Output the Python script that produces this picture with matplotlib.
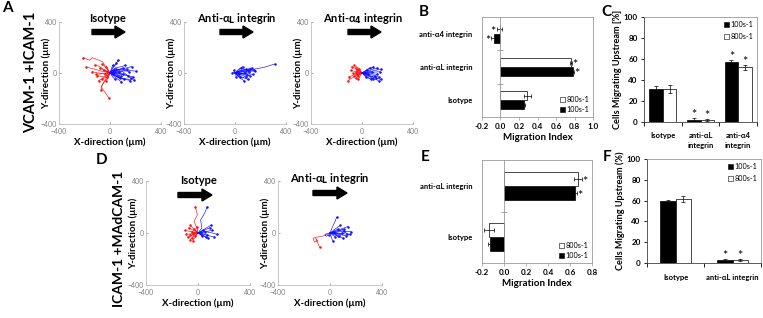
import numpy as np
import matplotlib
matplotlib.use("Agg")
import matplotlib.pyplot as plt
from matplotlib.patches import FancyArrow, Patch
from matplotlib.transforms import IdentityTransform

plt.rcParams['font.family'] = ['Lato', 'DejaVu Sans']

W, H = 763, 318

# ---- trajectories (um), each track starts at the origin ----
A1_red = [
    [(-20, 30), (-60, 90), (-140, 120), (-160, 100), (-210, 120)],
    [(-30, -40), (-70, -110), (-40, -150), (-10, -195)],
    [(-50, 10), (-120, 30), (-185, 45)],
    [(-40, 20), (-90, 55), (-120, 60)],
    [(-30, -10), (-90, 0), (-140, 10)],
    [(-20, -20), (-60, -30), (-100, -20)],
    [(-30, 10), (-80, 40)],
    [(-20, -30), (-60, -45)],
    [(-20, 10), (-50, 20)],
    [(-20, -5), (-40, -10)],
    [(-10, 20), (-30, 50)],
    [(-40, -30), (-90, -60)],
    [(-10, -15), (-20, -30)],
    [(-30, 40), (-60, 70)],
    [(-50, -5), (-110, -10)],
    [(-15, -40), (-30, -60)],
    [(-20, -40), (-60, -90), (-70, -130)],
    [(-10, 5), (-25, 15)],
]
A1_blue = [
    [(60, 10), (140, 20), (200, 15)],
    [(80, -10), (140, -20), (180, -30)],
    [(70, -40), (120, -50), (160, -60)],
    [(60, 30), (110, 20), (150, 10)],
    [(40, 40), (90, 50), (120, 60)],
    [(50, 20), (100, 40)],
    [(40, -20), (80, -40)],
    [(30, 50), (50, 70), (60, 100)],
    [(20, 40), (50, 80)],
    [(70, 0), (140, -20)],
    [(80, 30), (130, 40), (170, 50)],
    [(50, -40), (90, -70)],
    [(20, -30), (40, -50)],
    [(15, 10), (30, 20)],
    [(35, 5), (70, 10)],
    [(60, -30), (110, -50)],
    [(70, 20), (130, 30)],
    [(30, -10), (60, -20)],
    [(10, 30), (20, 60)],
    [(90, -40), (150, -50), (190, -55)],
    [(50, 0), (100, -10)],
    [(20, 20), (45, 35)],
    [(10, -5), (20, -10)],
    [(40, -5), (85, -25)],
    [(100, 10), (165, -40)],
]
A2_red = []
A2_blue = [
    [(60, 10), (150, 30), (230, 45), (310, 70)],
    [(60, 20), (130, 40)],
    [(70, 0), (150, 20)],
    [(60, -10), (120, -20)],
    [(50, -30), (100, -50)],
    [(40, -40), (70, -60)],
    [(40, 20), (90, 30)],
    [(30, 30), (60, 50)],
    [(20, -20), (40, -30)],
    [(10, 5), (20, 10)],
    [(-10, 5), (-20, 0)],
    [(5, -15), (10, -30)],
    [(40, 0), (80, 0)],
    [(60, 10), (110, 10)],
    [(30, 25), (50, 40)],
    [(15, -5), (30, -10)],
    [(-5, 10), (-10, 20)],
    [(70, -5), (140, -10)],
    [(50, -15), (90, -30)],
    [(80, 20), (160, 15)],
    [(30, -10), (60, -5), (100, 20)],
    [(20, 10), (70, 25), (120, 30)],
    [(25, -25), (60, -40), (95, -15)],
]
A3_red = [
    [(-40, -20), (-80, -40), (-110, -60)],
    [(-50, -10), (-100, -30)],
    [(-40, 30), (-80, 50)],
    [(-30, 40), (-60, 60)],
    [(-30, -20), (-50, -40)],
    [(-20, 10), (-40, 20)],
    [(-15, -10), (-30, -20)],
    [(-10, 15), (-20, 30)],
    [(-35, 0), (-70, 0)],
    [(-45, 10), (-90, 20)],
    [(-25, 20), (-50, 40)],
    [(-15, -25), (-30, -50)],
    [(-30, -10), (-60, -20)],
    [(-20, 0), (-40, -5)],
    [(-25, 5), (-45, 10)],
]
A3_blue = [
    [(60, -20), (110, -40), (150, -50)],
    [(60, -30), (130, -60)],
    [(50, -20), (110, -40)],
    [(70, 5), (140, 10)],
    [(60, 20), (120, 40)],
    [(40, 25), (90, 50)],
    [(30, 20), (60, 40)],
    [(50, -10), (100, -20)],
    [(35, -25), (70, -50)],
    [(20, 10), (40, 20)],
    [(15, -15), (30, -30)],
    [(40, 5), (80, 10)],
    [(60, -5), (120, -10)],
    [(25, -5), (50, -10)],
    [(80, 15), (150, 30)],
    [(10, 5), (20, 0)],
    [(45, -40), (90, -45)],
    [(30, 0), (70, -30), (130, -30)],
]
D1_red = [
    [(-10, 40), (-30, 90), (-5, 140), (-20, 200)],
    [(-50, 10), (-100, 20)],
    [(-45, -5), (-90, -10)],
    [(-35, 20), (-70, 40)],
    [(-30, -25), (-60, -50)],
    [(-20, -30), (-40, -60)],
    [(-25, 5), (-50, 10)],
    [(-15, 15), (-30, 30)],
    [(-40, -15), (-80, -30)],
    [(-10, -10), (-20, -20)],
    [(-5, 25), (-10, 50)],
    [(-30, 30), (-60, 60)],
    [(-20, -5), (-45, -35)],
    [(-35, 0), (-65, -15)],
    [(-15, 5), (-35, -5)],
]
D1_blue = [
    [(30, 40), (20, 100), (50, 150), (70, 200)],
    [(60, 10), (110, 0), (145, -10)],
    [(45, 20), (90, 40)],
    [(55, 10), (110, 20)],
    [(30, -15), (60, -30)],
    [(40, -20), (80, -40)],
    [(20, 10), (40, 20)],
    [(15, -10), (30, -20)],
    [(50, 30), (100, 60)],
    [(25, 5), (50, 10)],
    [(60, -15), (120, -30)],
    [(10, 0), (20, -5)],
    [(35, -5), (70, -15)],
]
D2_red = [
    [(-40, -20), (-90, -30), (-130, -40), (-120, -70), (-95, -60), (-110, -40), (-80, -110)],
]
D2_blue = [
    [(20, 50), (40, 90), (50, 120)],
    [(80, 10), (160, 10)],
    [(70, 25), (140, 50)],
    [(60, -10), (120, -20)],
    [(50, -20), (100, -40)],
    [(10, -30), (20, -60)],
    [(40, 30), (80, 60)],
    [(30, 15), (60, 30)],
    [(45, 0), (90, 0)],
    [(15, 5), (30, 10)],
    [(55, 15), (110, 30)],
    [(35, -10), (70, -20)],
    [(75, -5), (150, -10)],
    [(20, -15), (40, -30)],
    [(-20, -5), (-40, -10), (-30, -25), (-10, -15)],
    [(30, 5), (65, -35), (105, 15)],
    [(50, 5), (95, 25), (130, -5)],
]

# ---- bar chart data ----
B_cats = ['Isotype', 'anti-αL integrin', 'anti-α4 integrin']
B_100 = [0.25, 0.78, -0.07]
B_100_err = [0.02, 0.01, 0.03]
B_100_star = [False, True, True]
B_800 = [0.29, 0.76, -0.01]
B_800_err = [0.04, 0.01, 0.03]
B_800_star = [False, True, True]

C_cats = ['Isotype', 'anti-αL\nintegrin', 'anti-α4\nintegrin']
C_100 = [31, 2, 57]
C_100_err = [3, 1.5, 2]
C_100_star = [False, True, True]
C_800 = [31.5, 1.5, 52]
C_800_err = [3.5, 1, 2.5]
C_800_star = [False, True, True]

E_cats = ['Isotype', 'anti-αL integrin']
E_100 = [-0.13, 0.65]
E_100_err = [0.012, 0.01]
E_100_star = [False, True]
E_800 = [-0.14, 0.67]
E_800_err = [0.045, 0.035]
E_800_star = [False, True]

F_cats = ['Isotype', 'anti-αL integrin']
F_100 = [59.5, 3]
F_100_err = [1.5, 1]
F_100_star = [False, True]
F_800 = [61.5, 2.5]
F_800_err = [2.5, 1]
F_800_star = [False, True]

fig = plt.figure(figsize=(W / 100, H / 100), dpi=100)


def px_axes(l, t, r, b):
    return fig.add_axes([l / W, 1 - b / H, (r - l) / W, (b - t) / H])


def ftext(x, y, s, **kw):
    return fig.text(x / W, 1 - y / H, s, **kw)


def arrow(x0, x1, y):
    a = FancyArrow(x0, H - y, x1 - x0 - 10, 0, width=5, head_width=12,
                   head_length=10, length_includes_head=False,
                   color='black', transform=IdentityTransform())
    fig.add_artist(a)


def traj_panel(l, t, size, title, tx, red, blue, arr):
    ax = px_axes(l, t, l + size, t + size)
    for tracks, col in ((red, '#ff1010'), (blue, '#1010ff')):
        for tr in tracks:
            xs = [0] + [p[0] for p in tr]
            ys = [0] + [p[1] for p in tr]
            ax.plot(xs, ys, color=col, lw=0.45)
            ax.plot(xs[-1], ys[-1], 'o', color=col, ms=1.8, mew=0)
    ax.set_xlim(-400, 400)
    ax.set_ylim(-400, 400)
    for s in ['top', 'right']:
        ax.spines[s].set_visible(False)
    for s in ['left', 'bottom']:
        ax.spines[s].set_color('0.75')
        ax.spines[s].set_linewidth(0.6)
    ax.set_xticks([-400, 0, 400])
    ax.set_yticks([-400, 0, 400])
    ax.tick_params(labelsize=5, colors='0.5', length=1.5, width=0.5,
                   direction='in', pad=1.5)
    ax.tick_params(axis='x', pad=3)
    ax.set_xlabel('X-direction (µm)', fontsize=7, fontweight='bold', labelpad=1.5)
    ax.set_ylabel('Y-direction (µm)', fontsize=7, fontweight='bold')
    ax.yaxis.set_label_coords(-8.0 / size, 0.5)
    ftext(tx, arr[2] - 14, title, ha='center', va='center', fontsize=8,
          fontweight='bold')
    arrow(arr[0], arr[1], arr[2])
    return ax


traj_panel(59, 22, 102, 'Isotype', 108, A1_red, A1_blue, (92, 125, 32))
traj_panel(184, 22, 102, r'Anti-α$_\mathbf{L}$ integrin', 237, A2_red, A2_blue,
           (220, 253, 32))
traj_panel(311, 22, 102, r'Anti-α$_\mathbf{4}$ integrin', 363, A3_red, A3_blue,
           (348, 381, 32))
traj_panel(146, 181, 104, 'Isotype', 199, D1_red, D1_blue, (178, 212, 195))
traj_panel(278, 181, 104, r'Anti-α$_\mathbf{L}$ integrin', 330, D2_red, D2_blue,
           (313, 347, 193))

ek = dict(ecolor='black', elinewidth=0.5, capsize=1.5, capthick=0.5)


def box_style(ax):
    for s in ax.spines.values():
        s.set_color('0.6')
        s.set_linewidth(0.6)


def hbar_panel(rect, cats, v1, e1, s1, v8, e8, s8, xlim, xticks):
    ax = px_axes(*rect)
    n = len(cats)
    y = np.arange(n)
    h = 0.27
    ax.barh(y - h / 2, v1, height=h, color='black', edgecolor='black', lw=0.5,
            xerr=e1, error_kw=ek)
    ax.barh(y + h / 2, v8, height=h, color='white', edgecolor='black', lw=0.5,
            xerr=e8, error_kw=ek)
    for vals, errs, stars, off in ((v1, e1, s1, -h / 2), (v8, e8, s8, h / 2)):
        for i in range(n):
            if stars[i]:
                if vals[i] >= 0:
                    ax.text(vals[i] + errs[i] + 0.01, i + off - 0.07, '*',
                            ha='left', va='center', fontsize=9)
                else:
                    ax.text(vals[i] - errs[i] - 0.01, i + off - 0.07, '*',
                            ha='right', va='center', fontsize=9)
    ax.axvline(0, color='0.6', lw=0.6)
    ax.plot(np.zeros(n - 1), np.arange(n - 1) + 0.5, ls='none', marker='_',
            ms=4, mew=0.6, color='0.6')
    ax.set_xlim(*xlim)
    ax.set_ylim(-0.5, n - 0.5)
    ax.set_xticks(xticks)
    ax.set_xticklabels(['%.1f' % v for v in xticks], fontsize=5.8,
                       fontweight='bold')
    ax.set_yticks(y)
    ax.set_yticklabels(cats, fontsize=5.5, fontweight='bold')
    ax.tick_params(axis='y', length=0, pad=7)
    ax.tick_params(axis='x', length=2, width=0.5, color='0.6', pad=2.5)
    ax.set_xlabel('Migration Index', fontsize=7, fontweight='bold', labelpad=2)
    box_style(ax)
    hnd = [Patch(facecolor='white', edgecolor='black', lw=0.4, label='800s-1'),
           Patch(facecolor='black', edgecolor='black', lw=0.4, label='100s-1')]
    ax.legend(handles=hnd, loc='lower right', fontsize=5.2, frameon=False,
              handlelength=0.7, handleheight=0.7, handletextpad=0.2,
              labelspacing=0.45, borderaxespad=0.2, borderpad=0.3)
    return ax


def vbar_panel(rect, cats, v1, e1, s1, v8, e8, s8, w, ylabel, labpad):
    ax = px_axes(*rect)
    n = len(cats)
    x = np.arange(n)
    ax.bar(x - w / 2, v1, width=w, color='black', edgecolor='black', lw=0.5,
           yerr=e1, error_kw=ek)
    ax.bar(x + w / 2, v8, width=w, color='white', edgecolor='black', lw=0.5,
           yerr=e8, error_kw=ek)
    for vals, errs, stars, off in ((v1, e1, s1, -w / 2), (v8, e8, s8, w / 2)):
        for i in range(n):
            if stars[i]:
                ax.text(i + off, vals[i] + errs[i] + 3, '*', ha='center',
                        va='center', fontsize=9)
    ax.set_xlim(-0.5, n - 0.5)
    ax.set_ylim(0, 100)
    ax.set_yticks(range(0, 101, 20))
    ax.set_yticklabels([str(v) for v in range(0, 101, 20)], fontsize=5.8,
                       fontweight='bold')
    ax.set_xticks(x)
    ax.set_xticklabels(cats, fontsize=5.5, fontweight='bold', linespacing=1.6)
    ax.set_xticks(np.arange(n + 1) - 0.5, minor=True)
    ax.tick_params(axis='x', which='major', length=0, pad=labpad)
    ax.tick_params(axis='x', which='minor', length=3, width=0.6, direction='out')
    ax.tick_params(axis='y', length=2.5, width=0.6, pad=2)
    ax.set_ylabel(ylabel, fontsize=6.6, fontweight='bold', labelpad=1)
    box_style(ax)
    ax.spines['left'].set_color('0.25')
    ax.spines['bottom'].set_color('0.25')
    hnd = [Patch(facecolor='black', edgecolor='black', lw=0.4, label='100s-1'),
           Patch(facecolor='white', edgecolor='black', lw=0.4, label='800s-1')]
    ax.legend(handles=hnd, loc='upper right', fontsize=5.2, frameon=False,
              handlelength=0.7, handleheight=0.7, handletextpad=0.2,
              labelspacing=0.8, borderaxespad=0.1, borderpad=0.4)
    return ax


hbar_panel((482, 17, 593, 117), B_cats, B_100, B_100_err, B_100_star,
           B_800, B_800_err, B_800_star, (-0.2, 1.0),
           [-0.2, 0.0, 0.2, 0.4, 0.6, 0.8, 1.0])
hbar_panel((482, 160, 592, 263), E_cats, E_100, E_100_err, E_100_star,
           E_800, E_800_err, E_800_star, (-0.2, 0.8),
           [-0.2, 0.0, 0.2, 0.4, 0.6, 0.8])
vbar_panel((644, 17, 757, 122), C_cats, C_100, C_100_err, C_100_star,
           C_800, C_800_err, C_800_star, 0.36, 'Cells Migrating Upstream [%]', 7)
vbar_panel((647, 159, 761, 263), F_cats, F_100, F_100_err, F_100_star,
           F_800, F_800_err, F_800_star, 0.27, 'Cells Migrating Upstream (%)', 8)

# row labels and panel letters
ftext(31, 12, 'VCAM-1 +ICAM-1', rotation=90, ha='center', va='top',
      fontsize=10.5, fontweight='bold')
ftext(119, 171, 'ICAM-1 +MAdCAM-1', rotation=90, ha='center', va='top',
      fontsize=10, fontweight='bold')
for letter, lx, ly in (('A', 2, 1), ('B', 419, 5), ('C', 601, 5),
                       ('D', 96, 153), ('E', 421, 150), ('F', 603, 150)):
    ftext(lx, ly, letter, ha='left', va='top', fontsize=11, fontweight='bold')

fig.savefig('out.png', dpi=100)
